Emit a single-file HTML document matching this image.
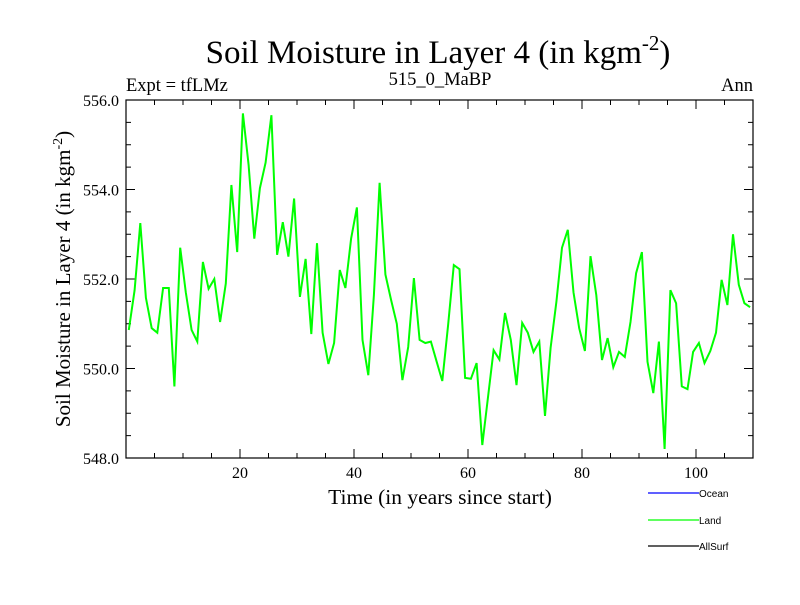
<!DOCTYPE html>
<html><head><meta charset="utf-8"><style>
body{margin:0;background:#fff;}
svg text{font-family:"Liberation Serif",serif;}
</style></head><body>
<svg id="chart" width="800" height="600" xmlns="http://www.w3.org/2000/svg">
<rect width="800" height="600" fill="#fff"/>
<text x="438" y="63" font-size="33" text-anchor="middle">Soil Moisture in Layer 4 (in kgm<tspan dy="-13" font-size="21">-2</tspan><tspan dy="13">)</tspan></text>
<text x="126" y="91" font-size="18.5">Expt = tfLMz</text>
<text x="440" y="85" font-size="18.5" text-anchor="middle">515_0_MaBP</text>
<text x="753" y="91" font-size="18.5" text-anchor="end">Ann</text>
<text transform="translate(70,279) rotate(-90)" font-size="21" text-anchor="middle">Soil Moisture in Layer 4 (in kgm<tspan dy="-8" font-size="14">-2</tspan><tspan dy="8">)</tspan></text>
<text x="440" y="504" font-size="21.5" text-anchor="middle">Time (in years since start)</text>
<g id="axes"></g>
<g id="series"></g>
<g>
<line x1="648" y1="493" x2="699" y2="493" stroke="#0000ff" stroke-width="1.2"/>
<text x="699" y="497" font-size="10" style="font-family:'Liberation Sans',sans-serif">Ocean</text>
<line x1="648" y1="520" x2="699" y2="520" stroke="#00ff00" stroke-width="1.2"/>
<text x="699" y="524" font-size="10" style="font-family:'Liberation Sans',sans-serif">Land</text>
<line x1="648" y1="546" x2="699" y2="546" stroke="#000" stroke-width="1.2"/>
<text x="699" y="550" font-size="10" style="font-family:'Liberation Sans',sans-serif">AllSurf</text>
</g>
</svg>
<script>
const landValues = [550.86,551.75,553.25,551.58,550.9,550.8,551.8,551.8,549.6,552.7,551.7,550.86,550.6,552.38,551.78,552.0,551.04,551.9,554.1,552.6,555.7,554.55,552.9,554.03,554.6,555.66,552.54,553.27,552.5,553.8,551.6,552.45,550.77,552.8,550.8,550.1,550.57,552.2,
551.8,552.9,553.6,550.64,549.85,551.64,554.15,552.1,551.53,551.0,549.74,550.48,552.02,550.64,550.57,550.6,550.15,549.72,550.97,552.31,552.22,549.79,549.77,550.12,548.29,549.34,550.41,550.2,551.24,550.64,549.63,551.02,550.8,550.37,550.6,548.94,
550.46,551.49,552.7,553.1,551.7,550.9,550.39,552.51,551.64,550.19,550.68,550.03,550.37,550.26,551.04,552.13,552.6,550.15,549.45,550.6,548.2,551.75,551.46,549.6,549.54,550.37,550.57,550.12,550.39,550.8,551.98,551.42,553.0,551.87,551.46,551.37];
const xTickLabels = [20,40,60,80,100];
const yTickLabels = ["548.0","550.0","552.0","554.0","556.0"];
const xDomain = [0,110];
const yDomain = [548,556];

const L=126,R=753,T=100,B=458;
const xs = t => L + (t - xDomain[0]) / (xDomain[1]-xDomain[0]) * (R-L);
const ys = v => B - (v - yDomain[0]) / (yDomain[1]-yDomain[0]) * (B-T);
const NS="http://www.w3.org/2000/svg";
const axes=document.getElementById('axes');
function mk(tag,attrs,parent){const e=document.createElementNS(NS,tag);for(const k in attrs)e.setAttribute(k,attrs[k]);parent.appendChild(e);return e;}

const frame=mk('rect',{x:L,y:T,width:R-L,height:B-T,fill:'none',stroke:'#000','stroke-width':1.2},axes);



for(let t=5;t<xDomain[1];t+=5){
  const major=t%20===0, len=major?9:5, x=xs(t);
  const a=mk('line',{x1:x,y1:B,x2:x,y2:B-len,stroke:'#000','stroke-width':1},axes);
  
  
  const b=mk('line',{x1:x,y1:T,x2:x,y2:T+len,stroke:'#000','stroke-width':1},axes);
  
  
}
xTickLabels.forEach(t=>{
  const e=mk('text',{x:xs(t),y:B+20,'font-size':16,'text-anchor':'middle'},axes);
  
  
  e.textContent=t;
});
for(let v=yDomain[0]+0.5;v<yDomain[1];v+=0.5){
  const major=Math.abs(v%2)<1e-9, len=major?9:5, y=ys(v);
  const a=mk('line',{x1:L,y1:y,x2:L+len,y2:y,stroke:'#000','stroke-width':1},axes);
  
  
  const b=mk('line',{x1:R,y1:y,x2:R-len,y2:y,stroke:'#000','stroke-width':1},axes);
  
  
}
yTickLabels.forEach(s=>{
  const e=mk('text',{x:L-7,y:ys(parseFloat(s))+6,'font-size':16,'text-anchor':'end'},axes);
  
  
  e.textContent=s;
});

const pts=landValues.map((v,i)=>xs(i+0.5).toFixed(1)+','+ys(v).toFixed(1)).join(' ');
const line=mk('polyline',{points:pts,fill:'none',stroke:'#00ff00','stroke-width':2,'stroke-linejoin':'miter'},document.getElementById('series'));


</script>
</body></html>
